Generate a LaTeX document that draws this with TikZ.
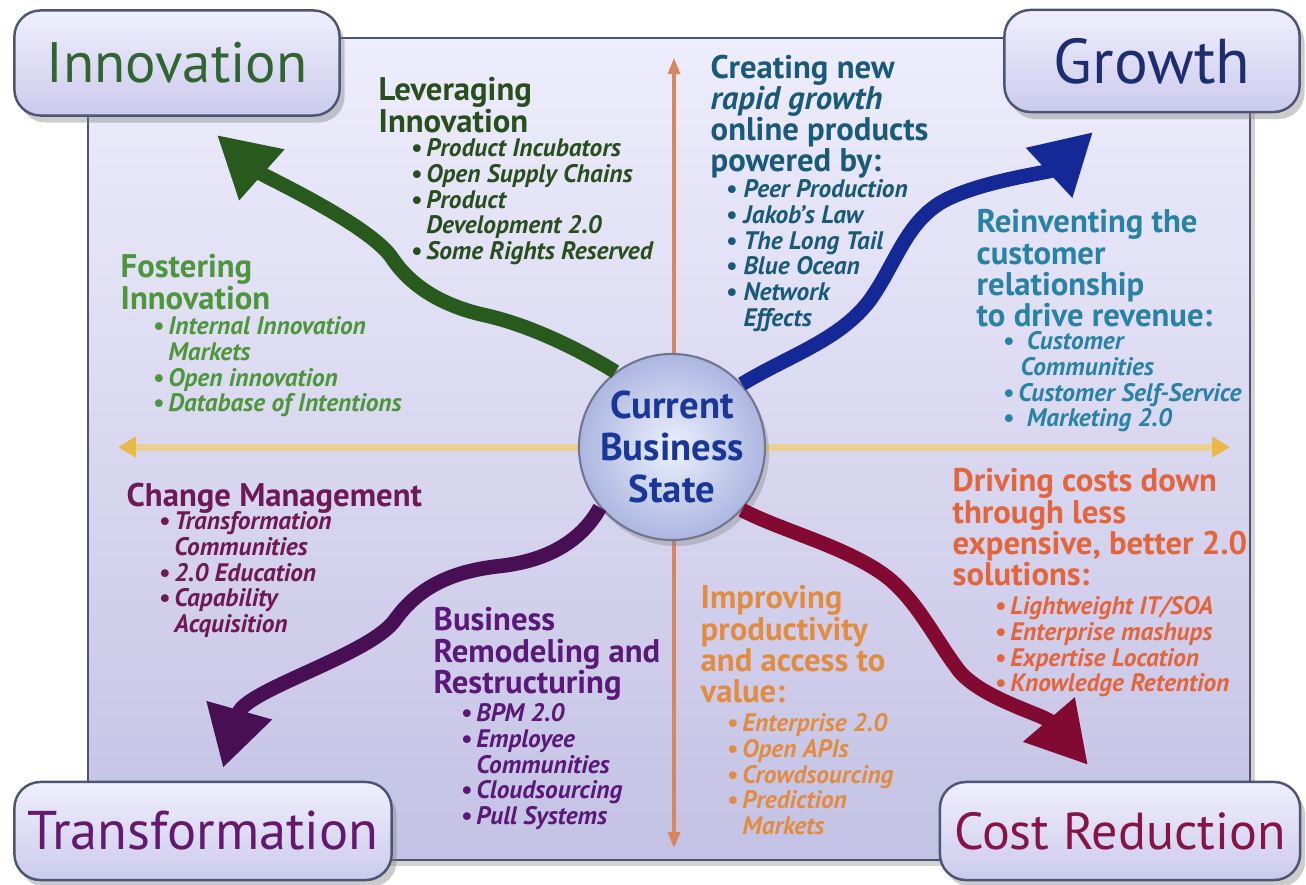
\documentclass[tikz,border=0pt]{standalone}
\usepackage{fontspec}
\setmainfont{PT Sans}
\usetikzlibrary{arrows.meta,positioning,shadows}

\definecolor{panelTop}{RGB}{238,237,252}
\definecolor{panelBot}{RGB}{196,194,228}
\definecolor{panelLine}{RGB}{78,84,115}
\definecolor{boxTop}{RGB}{240,239,253}
\definecolor{boxBot}{RGB}{204,202,236}
\definecolor{ballIn}{RGB}{236,240,253}
\definecolor{ballOut}{RGB}{172,182,224}
\definecolor{innogreen}{RGB}{48,100,48}
\definecolor{levgreen}{RGB}{40,78,30}
\definecolor{fostgreen}{RGB}{78,150,60}
\definecolor{arrgreen}{RGB}{40,90,30}
\definecolor{grownavy}{RGB}{28,45,112}
\definecolor{creatteal}{RGB}{25,90,120}
\definecolor{reinteal}{RGB}{40,130,165}
\definecolor{arrblue}{RGB}{20,40,150}
\definecolor{transpurple}{RGB}{100,25,110}
\definecolor{changeplum}{RGB}{110,25,85}
\definecolor{remodpurple}{RGB}{90,25,120}
\definecolor{arrpurple}{RGB}{72,15,85}
\definecolor{costmaroon}{RGB}{135,20,70}
\definecolor{arrmaroon}{RGB}{130,10,50}
\definecolor{improveorange}{RGB}{225,140,65}
\definecolor{driveorange}{RGB}{228,100,60}
\definecolor{statenavy}{RGB}{25,55,150}
\definecolor{axisorange}{RGB}{215,135,95}
\definecolor{axisgold}{RGB}{236,208,145}
\definecolor{axistip}{RGB}{232,185,70}

\newcommand{\bul}{\textbullet\,}
\newcommand{\nob}{\hphantom{\textbullet\,}}
\newcommand{\bus}{\textbullet\ }
\newcommand{\nobs}{\hphantom{\textbullet\ }}

\tikzset{
    panel/.style={draw=panelLine, line width=0.7pt, top color=panelTop, bottom color=panelBot, drop shadow={opacity=0.35, shadow xshift=0.5mm, shadow yshift=-0.6mm}},
    cornerbox/.style={draw=panelLine, line width=0.7pt, rounded corners=2.6mm, top color=boxTop, bottom color=boxBot, inner sep=0pt, font=\fontsize{15.5}{18}\selectfont, drop shadow={opacity=0.4, shadow xshift=0.5mm, shadow yshift=-0.7mm}},
    centreball/.style={circle, draw=panelLine!80, line width=0.6pt, inner color=ballIn, outer color=ballOut, minimum size=1.86cm, inner sep=0pt, align=center, text=statenavy, font=\fontsize{11}{11.9}\selectfont\bfseries, drop shadow={opacity=0.35, shadow xshift=0.4mm, shadow yshift=-0.6mm}},
    headtext/.style={inner sep=0pt, anchor=north west, align=left, font=\fontsize{9.3}{8.9}\selectfont\bfseries},
    itemtext/.style={inner sep=0pt, align=left, font=\fontsize{7.2}{7.3}\selectfont\bfseries\itshape},
    wavyarrow/.style={line width=1.45mm, -{Triangle[length=6mm, width=6.4mm]}},
    vaxis/.style={draw=axisorange, line width=0.9pt, {Triangle[length=1.6mm, width=1.2mm]}-{Triangle[length=1.6mm, width=1.2mm]}},
    haxis/.style={draw=axisgold, line width=0.7mm, {Triangle[length=1.8mm, width=2mm, color=axistip]}-{Triangle[length=1.8mm, width=2mm, color=axistip]}}
}

\begin{document}
\begin{tikzpicture}[x=0.01cm, y=-0.01cm]
    \useasboundingbox (0,0) rectangle (1306,885);
    \path[panel] (88,38) rectangle (1250,860);

    % axes through the centre
    \coordinate (ntop) at (674,58);
    \coordinate (sbot) at (674,848);
    \coordinate (wend) at (118,447);
    \coordinate (eend) at (1230,447);
    \draw[vaxis] (sbot) -- (ntop);
    \draw[haxis] (wend) -- (eend);

    \node[centreball] (ball) at (672,447) {Current\\Business\\State};

    \node[cornerbox, minimum width=3.25cm, minimum height=1.05cm, text=innogreen, font=\fontsize{16.2}{18}\selectfont] (innov) at (177,63) {Innovation};
    \node[cornerbox, minimum width=2.95cm, minimum height=1.02cm, text=grownavy, font=\fontsize{18}{20}\selectfont] (growth) at (1152,61) {Growth};
    \node[cornerbox, minimum width=3.77cm, minimum height=0.98cm, text=transpurple] (transf) at (203,831) {Transformation};
    \node[cornerbox, minimum width=3.6cm, minimum height=0.98cm, text=costmaroon, font=\fontsize{14.8}{18}\selectfont] (costred) at (1120,831) {Cost Reduction};

    % wavy arrows out of the centre
    \coordinate (innotip) at (217,135);
    \coordinate (growtip) at (1093,132);
    \coordinate (transtip) at (223,768);
    \coordinate (costtip) at (1088,765);
    \draw[wavyarrow, draw=arrgreen] (ball.127) .. controls (580,350) and (530,325) .. (484,315) .. controls (440,305) and (410,285) .. (392,258) .. controls (370,225) and (262,175) .. (innotip);
    \draw[wavyarrow, draw=arrblue] (ball.42) .. controls (790,355) and (840,340) .. (870,300) .. controls (895,265) and (905,225) .. (940,203) .. controls (975,182) and (1050,172) .. (growtip);
    \draw[wavyarrow, draw=arrpurple] (ball.220) .. controls (585,535) and (555,560) .. (500,566) .. controls (455,571) and (420,585) .. (395,620) .. controls (370,655) and (245,690) .. (transtip);
    \draw[wavyarrow, draw=arrmaroon] (ball.318) .. controls (780,530) and (840,545) .. (880,572) .. controls (915,595) and (935,640) .. (960,672) .. controls (985,700) and (1045,715) .. (costtip);

    % innovation quadrant
    \node[headtext, text=levgreen] (lev) at (378,77) {Leveraging\\Innovation};
    \node[itemtext, text=levgreen, below right=6.1mm and 3.2mm of lev.north west] (levlist) {\bul Product Incubators\\\bul Open Supply Chains\\\bul Product\\\nob Development 2.0\\\bul Some Rights Reserved};
    \node[headtext, text=fostgreen] (fost) at (120,254) {Fostering\\Innovation};
    \node[itemtext, text=fostgreen, below right=6.2mm and 3.2mm of fost.north west] (fostlist) {\bul Internal Innovation\\\nob Markets\\\bul Open innovation\\\bul Database of Intentions};

    % growth quadrant
    \node[headtext, text=creatteal] (creat) at (710,54) {Creating new\\\textit{rapid growth}\\online products\\powered by:};
    \node[itemtext, text=creatteal, below right=12.5mm and 1.5mm of creat.north west] (creatlist) {\bus Peer Production\\\bus Jakob’s Law\\\bus The Long Tail\\\bus Blue Ocean\\\bus Network\\\nobs Effects};
    \node[headtext, text=reinteal] (rein) at (976,209) {Reinventing the\\customer\\relationship\\to drive revenue:};
    \node[itemtext, text=reinteal, below right=12.2mm and 2.6mm of rein.north west] (reinlist) {\bus\ Customer\\\nobs Communities\\\bul Customer Self-Service\\\bus\ Marketing 2.0};

    % transformation quadrant
    \node[headtext, text=changeplum] (change) at (126,482) {Change Management};
    \node[itemtext, text=changeplum, below right=2.9mm and 3.2mm of change.north west] (changelist) {\bul Transformation\\\nob Communities\\\bul 2.0 Education\\\bul Capability\\\nob Acquisition};
    \node[headtext, text=remodpurple] (remod) at (433,607) {Business\\Remodeling and\\Restructuring};
    \node[itemtext, text=remodpurple, below right=9.6mm and 2.7mm of remod.north west] (remodlist) {\bul BPM 2.0\\\bul Employee\\\nob Communities\\\bul Cloudsourcing\\\bul Pull Systems};

    % cost reduction quadrant
    \node[headtext, text=improveorange] (impr) at (700,585) {Improving\\productivity\\and access to\\value:};
    \node[itemtext, text=improveorange, below right=12.8mm and 2.6mm of impr.north west] (imprlist) {\bul Enterprise 2.0\\\bul Open APIs\\\bul Crowdsourcing\\\bul Prediction\\\nob Markets};
    \node[headtext, text=driveorange] (drive) at (952,468) {Driving costs down\\through less\\expensive, better 2.0\\solutions:};
    \node[itemtext, text=driveorange, below right=12.8mm and 4.2mm of drive.north west] (drivelist) {\bul Lightweight IT/SOA\\\bul Enterprise mashups\\\bul Expertise Location\\\bul Knowledge Retention};
\end{tikzpicture}
\end{document}
